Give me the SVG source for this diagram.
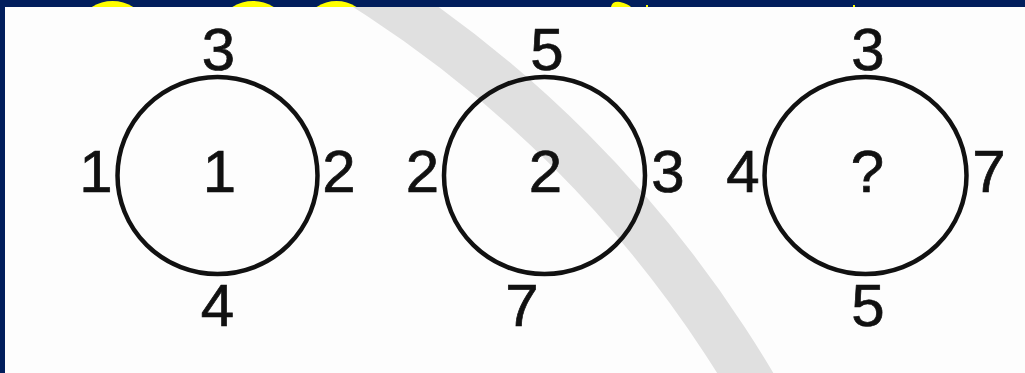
<svg xmlns="http://www.w3.org/2000/svg" width="1025" height="373" viewBox="0 0 1025 373">
  <defs>
    <clipPath id="paper">
      <rect x="5" y="7" width="1020" height="366"/>
    </clipPath>
    <style>
      .ring { fill: none; stroke: #111111; stroke-width: 4.5; }
      .num { font-family: "Liberation Sans", Arial, sans-serif; font-size: 60px; fill: #111111; stroke: #111111; stroke-width: 0.7; text-anchor: middle; }
      .glow { fill: #ffff00; }
    </style>
  </defs>
  <!-- frame -->
  <rect x="0" y="0" width="1025" height="373" fill="#011e5c"/>
  <g id="title-fragments">
    <ellipse class="glow" cx="112.5" cy="20" rx="28" ry="19"/>
    <ellipse class="glow" cx="253" cy="20" rx="28" ry="19"/>
    <ellipse class="glow" cx="336.5" cy="20" rx="27" ry="19"/>
    <path class="glow" d="M611 7 Q612 1 620 2 Q628 4 631 7 Z"/>
    <rect class="glow" x="646" y="5" width="2" height="2"/>
    <rect class="glow" x="853" y="5" width="2" height="2"/>
  </g>
  <rect x="5" y="7" width="1020" height="366" fill="#fdfdfd"/>
  <g clip-path="url(#paper)">
    <circle cx="-271" cy="992" r="1190" fill="none" stroke="#e0e0e0" stroke-width="48"/>
  </g>
  <g id="connectors"></g>
  <g id="circle1">
    <ellipse class="ring" cx="217.5" cy="175.5" rx="100" ry="98.5"/>
    <text class="num" x="218.5" y="70">3</text>
    <text class="num" x="96" y="192">1</text>
    <text class="num" x="219.5" y="192">1</text>
    <text class="num" x="339" y="192">2</text>
    <text class="num" x="217.5" y="326">4</text>
  </g>
  <g id="circle2">
    <ellipse class="ring" cx="544.5" cy="175.5" rx="100.5" ry="98.5"/>
    <text class="num" x="547" y="70">5</text>
    <text class="num" x="422.5" y="192">2</text>
    <text class="num" x="545.5" y="192">2</text>
    <text class="num" x="668" y="192">3</text>
    <text class="num" x="522" y="326">7</text>
  </g>
  <g id="circle3">
    <ellipse class="ring" cx="865.5" cy="175.5" rx="101" ry="98.5"/>
    <text class="num" x="868" y="70">3</text>
    <text class="num" x="743" y="192">4</text>
    <text class="num" x="867.5" y="192">?</text>
    <text class="num" x="989" y="192">7</text>
    <text class="num" x="868" y="326">5</text>
  </g>
</svg>
